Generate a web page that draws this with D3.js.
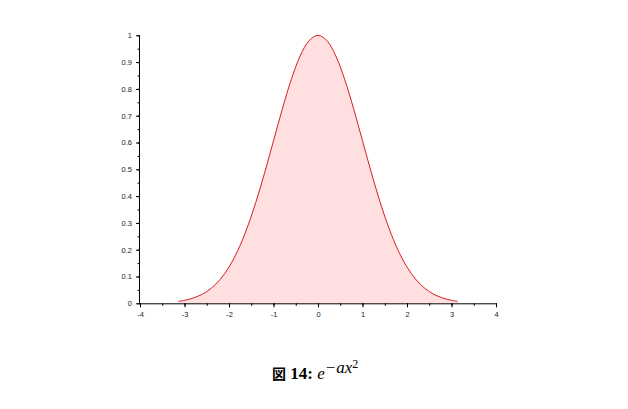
<!DOCTYPE html>
<html><head><meta charset="utf-8">
<script src="https://cdn.jsdelivr.net/npm/d3@7"></script>
<style>html,body{margin:0;padding:0;background:#fff;}svg{display:block;}</style>
</head><body>
<svg id="c" width="628" height="409"></svg>
<script>
const xs = [-3.14,-3.0,-2.8,-2.6,-2.4,-2.2,-2.0,-1.8,-1.6,-1.4,-1.2,-1.0,-0.8,-0.6,-0.4,-0.2,0,0.2,0.4,0.6,0.8,1.0,1.2,1.4,1.6,1.8,2.0,2.2,2.4,2.6,2.8,3.0,3.14];
const ys = [0.0072,0.0111,0.0198,0.0340,0.0561,0.0889,0.1353,0.1979,0.2780,0.3753,0.4868,0.6065,0.7261,0.8353,0.9231,0.9802,1.0,0.9802,0.9231,0.8353,0.7261,0.6065,0.4868,0.3753,0.2780,0.1979,0.1353,0.0889,0.0561,0.0340,0.0198,0.0111,0.0072];
const xTicks = [-4,-3,-2,-1,0,1,2,3,4];
const yTicks = [0,0.1,0.2,0.3,0.4,0.5,0.6,0.7,0.8,0.9,1];

const svg = d3.select("#c");
const x = d3.scaleLinear().domain([-4,4]).range([140,496]);
const y = d3.scaleLinear().domain([0,1]).range([303.3,35.3]);
const data = xs.map((v,i)=>({x:v,y:ys[i]}));

svg.append("path").datum(data)
  .attr("d", d3.area().x(d=>x(d.x)).y0(y(0)).y1(d=>y(d.y)).curve(d3.curveCatmullRom))
  .attr("fill","#ffdfe0");
svg.append("path").datum(data)
  .attr("d", d3.line().x(d=>x(d.x)).y(d=>y(d.y)).curve(d3.curveCatmullRom))
  .attr("fill","none").attr("stroke","#d81e1e").attr("stroke-width",1);

const font = "'Liberation Sans', Arial, sans-serif";
// x axis
const gx = svg.append("g").attr("transform",`translate(0,${y(0)})`);
gx.call(d3.axisBottom(x).tickValues(d3.range(-4,4.01,0.5)).tickSize(2.5).tickFormat(""));
gx.call(g=>g.select(".domain").remove());
const gx2 = svg.append("g").attr("transform",`translate(0,${y(0)})`);
gx2.call(d3.axisBottom(x).tickValues(xTicks).tickSize(4).tickPadding(4).tickFormat(d=>String(d)));
gx2.selectAll("text").attr("font-family",font).attr("font-size",7.5).attr("fill","#222");
gx2.select(".domain").attr("d",`M${x(-4)},0.5H${x(4)}`).attr("stroke","#000");
gx.selectAll("line").attr("stroke","#000");
gx2.selectAll("line").attr("stroke","#000");

// y axis
const gy = svg.append("g").attr("transform",`translate(${x(-4)},0)`);
gy.call(d3.axisLeft(y).tickValues(d3.range(0,1.001,0.05)).tickSize(2.5).tickFormat(""));
gy.call(g=>g.select(".domain").remove());
const gy2 = svg.append("g").attr("transform",`translate(${x(-4)},0)`);
gy2.call(d3.axisLeft(y).tickValues(yTicks).tickSize(4).tickPadding(4).tickFormat(d=>String(+d.toFixed(1))));
gy2.selectAll("text").attr("font-family",font).attr("font-size",7.5).attr("fill","#222");
gy2.select(".domain").attr("d",`M-0.5,${y(1)}V${y(0)}`).attr("stroke","#000");
gy.selectAll("line").attr("stroke","#000");
gy2.selectAll("line").attr("stroke","#000");

// caption
const cap = svg.append("text").attr("x",272).attr("y",379).attr("text-anchor","start")
  .attr("font-family","'Liberation Serif','Times New Roman',serif").attr("font-size",17).attr("fill","#000");
cap.append("tspan").attr("font-weight","bold").attr("font-family","'Noto Sans CJK JP'").attr("font-size",14).text("図");
cap.append("tspan").attr("font-weight","bold").text(" 14: ");
cap.append("tspan").attr("font-style","italic").text("e");
cap.append("tspan").attr("font-style","italic").attr("font-size",17).attr("dy",-6).text("−ax");
cap.append("tspan").attr("font-size",12).attr("dy",-5).text("2");
</script>
</body></html>
